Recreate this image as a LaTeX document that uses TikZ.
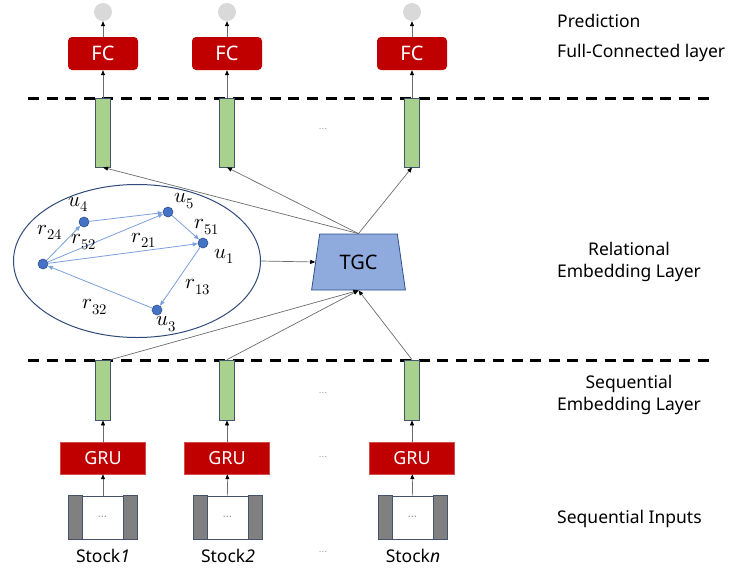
\documentclass[tikz,border=0pt]{standalone}
\usepackage{fontspec}
\usepackage{unicode-math}
\setmainfont{Noto Sans}
\setmathfont{Latin Modern Math}
\usepackage{tikz}
\usetikzlibrary{arrows.meta}
\usetikzlibrary{positioning, shapes.geometric}

\definecolor{fcred}{HTML}{C00000}
\definecolor{barfill}{HTML}{A9D18E}
\definecolor{barline}{HTML}{44546A}
\definecolor{tgcfill}{HTML}{8FAADC}
\definecolor{tgcline}{HTML}{2F528F}
\definecolor{entfill}{HTML}{4472C4}
\definecolor{relblue}{HTML}{7AA0DC}
\definecolor{ringline}{HTML}{2F4A7A}
\definecolor{dotgray}{HTML}{D9D9D9}
\definecolor{sidegray}{HTML}{808080}

\tikzset{
  conn/.style={draw=gray!85!black, line width=0.7pt, -{Triangle[length=5pt, width=4pt, color=black]}},
  relarrow/.style={draw=relblue, line width=0.8pt, -{Triangle[length=5pt, width=4pt]}},
  sepline/.style={line width=3pt, dash pattern=on 11pt off 7.6pt},
  outdot/.style={circle, fill=dotgray, minimum size=18pt, inner sep=0pt},
  fcbox/.style={rectangle, rounded corners=4pt, fill=fcred, text=white, minimum width=70pt, minimum height=33pt, font=\fontsize{20}{24}\selectfont},
  grubox/.style={rectangle, fill=fcred, draw=fcred!70!white, text=white, minimum width=85pt, minimum height=32pt, font=\fontsize{18}{22}\selectfont},
  embbar/.style={rectangle, fill=barfill, draw=barline, line width=0.8pt, minimum width=15pt, inner sep=0pt},
  inbox/.style={rectangle, fill=white, draw=barline, line width=0.8pt, minimum width=68pt, minimum height=43pt, inner sep=0pt, text=gray!70!black, font=\fontsize{11}{12}\selectfont},
  entity/.style={circle, fill=entfill, draw=tgcline, line width=0.6pt, minimum size=10pt, inner sep=0pt},
  mlabel/.style={font=\fontsize{21}{23}\selectfont, inner sep=0pt},
  layerlabel/.style={font=\fontsize{17.5}{22.5}\selectfont, inner sep=0pt},
  gapdots/.style={text=gray, font=\fontsize{10}{11}\selectfont, inner sep=0pt}
}

\begin{document}
\begin{tikzpicture}[x=1pt, y=-1pt]
  \useasboundingbox (0,0) rectangle (736,570);

  % layer separators
  \draw[sepline] (28,98) -- (715,98);
  \draw[sepline] (28,360) -- (715,360);

  % prediction and FC layer
  \node[outdot] (o1) at (103,12) {};
  \node[outdot] (o2) at (227,12) {};
  \node[outdot] (o3) at (412,12) {};
  \node[fcbox] (fc1) at (103,53.5) {FC};
  \node[fcbox] (fc2) at (227,53.5) {FC};
  \node[fcbox] (fc3) at (412,53.5) {FC};
  \draw[conn] (fc1) -- (o1);
  \draw[conn] (fc2) -- (o2);
  \draw[conn] (fc3) -- (o3);

  % relational embeddings
  \node[embbar, minimum height=69pt] (hb1) at (103,132.5) {};
  \node[embbar, minimum height=69pt] (hb2) at (227,132.5) {};
  \node[embbar, minimum height=69pt] (hb3) at (412,132.5) {};
  \node[gapdots] (hdots) at (323,130) {$\cdots$};
  \draw[conn] (hb1) -- (fc1);
  \draw[conn] (hb2) -- (fc2);
  \draw[conn] (hb3) -- (fc3);

  % stock relation graph
  \node[ellipse, draw=ringline, line width=1pt, minimum width=247pt, minimum height=153pt] (graph) at (137,261) {};
  \node[entity] (u2) at (43,264) {};
  \node[entity] (u4) at (84,222) {};
  \node[entity] (u5) at (168,212) {};
  \node[entity] (u1) at (203,243) {};
  \node[entity] (u3) at (157,310) {};
  \draw[relarrow] (u2) -- (u4);
  \draw[relarrow] (u2) -- (u5);
  \draw[relarrow] (u2) -- (u1);
  \draw[relarrow] (u4) -- (u5);
  \draw[relarrow] (u5) -- (u1);
  \draw[relarrow] (u1) -- (u3);
  \draw[relarrow] (u3) -- (u2);
  \node[mlabel] (lu4) at (78,204) {$u_4$};
  \node[mlabel] (lu5) at (184,201) {$u_5$};
  \node[mlabel] (lu1) at (224,256) {$u_1$};
  \node[mlabel] (lu3) at (166,324) {$u_3$};
  \node[mlabel] (lr24) at (50,232) {$r_{24}$};
  \node[mlabel] (lr52) at (84,242) {$r_{52}$};
  \node[mlabel] (lr21) at (144,240) {$r_{21}$};
  \node[mlabel] (lr51) at (207,227) {$r_{51}$};
  \node[mlabel] (lr13) at (198,287) {$r_{13}$};
  \node[mlabel] (lr32) at (95,307) {$r_{32}$};

  % TGC
  \node[trapezium, trapezium left angle=75, trapezium right angle=75, trapezium stretches=true,
        fill=tgcfill, draw=tgcline, line width=0.8pt, minimum width=94pt, minimum height=56pt,
        inner sep=0pt, font=\fontsize{20}{24}\selectfont] (tgc) at (358.5,262) {TGC};
  \draw[conn] (graph.east) -- (tgc.west);
  \draw[conn] (tgc.north) -- (hb1.south);
  \draw[conn] (tgc.north) -- (hb2.south);
  \draw[conn] (tgc.north) -- (hb3.south);

  % sequential embeddings
  \node[embbar, minimum height=60pt] (sb1) at (103,390) {};
  \node[embbar, minimum height=60pt] (sb2) at (227,390) {};
  \node[embbar, minimum height=60pt] (sb3) at (412,390) {};
  \node[gapdots] (sdots) at (323,394) {$\cdots$};
  \draw[conn] (sb1.north east) -- (tgc.south);
  \draw[conn] (sb2.north) -- (tgc.south);
  \draw[conn] (sb3.north) -- (tgc.south);

  % GRU encoders
  \node[grubox] (gru1) at (103,458) {GRU};
  \node[grubox] (gru2) at (227,458) {GRU};
  \node[grubox] (gru3) at (412,458) {GRU};
  \node[gapdots] (gdots) at (323,458) {$\cdots$};
  \draw[conn] (gru1) -- (sb1);
  \draw[conn] (gru2) -- (sb2);
  \draw[conn] (gru3) -- (sb3);

  % sequential inputs
  \node[inbox] (in1) at (103,517.5) {$\cdots$};
  \node[inbox] (in2) at (228,517.5) {$\cdots$};
  \node[inbox] (in3) at (413,517.5) {$\cdots$};
  \filldraw[fill=sidegray, draw=barline, line width=0.8pt] (in1.north west) rectangle ([xshift=14pt]in1.south west);
  \filldraw[fill=sidegray, draw=barline, line width=0.8pt] (in1.north east) rectangle ([xshift=-14pt]in1.south east);
  \filldraw[fill=sidegray, draw=barline, line width=0.8pt] (in2.north west) rectangle ([xshift=14pt]in2.south west);
  \filldraw[fill=sidegray, draw=barline, line width=0.8pt] (in2.north east) rectangle ([xshift=-14pt]in2.south east);
  \filldraw[fill=sidegray, draw=barline, line width=0.8pt] (in3.north west) rectangle ([xshift=14pt]in3.south west);
  \filldraw[fill=sidegray, draw=barline, line width=0.8pt] (in3.north east) rectangle ([xshift=-14pt]in3.south east);
  \draw[conn] (in1) -- (gru1);
  \draw[conn] (in2) -- (gru2);
  \draw[conn] (in3) -- (gru3);
  \node[layerlabel] (s1) at (103,556) {Stock\textit{1}};
  \node[layerlabel] (s2) at (228,556) {Stock\textit{2}};
  \node[layerlabel] (s3) at (413,556) {Stock\textit{n}};
  \node[gapdots] (idots) at (323,553) {$\cdots$};

  % layer names
  \node[layerlabel, anchor=west] (lpred) at (557,21) {Prediction};
  \node[layerlabel, anchor=west] (lfc) at (557,53) {Full-Connected layer};
  \node[layerlabel, align=center] (lrel) at (629,262) {Relational\\Embedding Layer};
  \node[layerlabel, align=center] (lseq) at (629,395) {Sequential\\Embedding Layer};
  \node[layerlabel, anchor=west] (linp) at (557,519) {Sequential Inputs};
\end{tikzpicture}
\end{document}
